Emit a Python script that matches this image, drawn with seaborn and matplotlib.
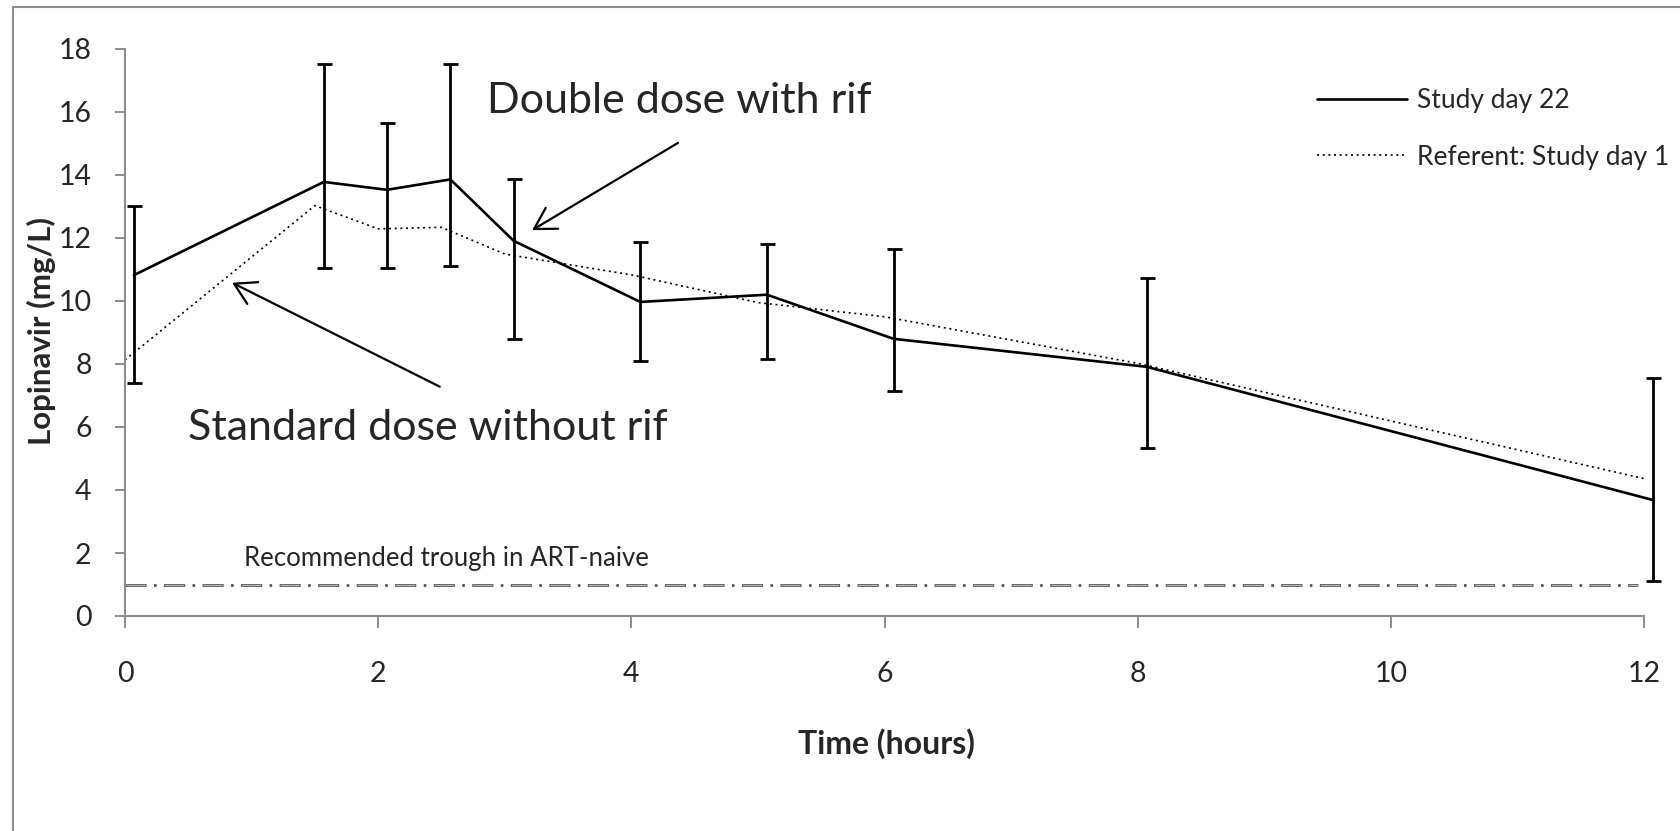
import matplotlib
matplotlib.use("Agg")
import matplotlib.pyplot as plt
import seaborn as sns
import numpy as np
import pandas as pd
from matplotlib.lines import Line2D

# ---------------- data ----------------
time_day1 = [0, 1.5, 2, 2.5, 3, 4, 5, 6, 8, 12]
conc_day1 = [8.13, 13.03, 12.29, 12.34, 11.49, 10.83, 9.95, 9.50, 8.02, 4.36]

time_day22 = [0.07, 1.57, 2.07, 2.57, 3.07, 4.07, 5.07, 6.07, 8.07, 12.07]
conc_day22 = [10.82, 13.78, 13.53, 13.86, 11.91, 9.97, 10.20, 8.80, 7.91, 3.68]
upper_day22 = [13.02, 17.51, 15.66, 17.51, 13.86, 11.86, 11.80, 11.64, 10.72, 7.55]
lower_day22 = [7.41, 11.06, 11.06, 11.12, 8.80, 8.09, 8.15, 7.15, 5.32, 1.12]

trough_level = 1.0
x_ticks = [0, 2, 4, 6, 8, 10, 12]
y_ticks = [0, 2, 4, 6, 8, 10, 12, 14, 16, 18]

label_day22 = "Study day 22"
label_day1 = "Referent: Study day 1"
trough_text = "Recommended trough in ART-naive"
annot_double = "Double dose with rif"
annot_standard = "Standard dose without rif"
xlabel = "Time (hours)"
ylabel = "Lopinavir (mg/L)"

# ---------------- style ----------------
sns.set_style("white")
plt.rcParams["font.family"] = ["Lato", "DejaVu Sans"]

W, H = 1681, 831
fig = plt.figure(figsize=(W / 100, H / 100), dpi=100)
ax = fig.add_axes([125 / W, 1 - 616 / H, (1644.3 - 125) / W, (616 - 49) / H])

df1 = pd.DataFrame({"t": time_day1, "c": conc_day1})
df22 = pd.DataFrame({"t": time_day22, "c": conc_day22})

sns.lineplot(data=df1, x="t", y="c", ax=ax, color="black", lw=1.2,
             linestyle=(0, (1.2, 2.2)), label=label_day1, clip_on=False)
sns.lineplot(data=df22, x="t", y="c", ax=ax, color="black", lw=1.9,
             label=label_day22, clip_on=False)

c22 = np.array(conc_day22)
yerr = [c22 - np.array(lower_day22), np.array(upper_day22) - c22]
eb = ax.errorbar(time_day22, conc_day22, yerr=yerr, fmt="none", ecolor="black",
                 elinewidth=2.0, capsize=5.4, capthick=2.0, clip_on=False)
for art in eb.lines[1] + eb.lines[2]:
    art.set_clip_on(False)

# trough line: grey dash-dot with hollow-looking dashes
lw_main = 1.9
ax.plot([0, 11.95], [trough_level, trough_level], color="#4d4d4d", lw=lw_main,
        linestyle=(0, (8, 2.8, 1, 2.8)))
lw_in = 0.55
period = lw_main * (8 + 2.8 + 1 + 2.8)
dash_in = lw_main * 8 - 1.6
ax.plot([0, 11.95], [trough_level, trough_level], color="#d9d9d9", lw=lw_in,
        linestyle=(-0.8 / lw_in, (dash_in / lw_in, (period - dash_in) / lw_in)))
ax.text(0.94, 1.587, trough_text, fontsize=18.5, va="baseline", ha="left")

# annotations
ax.annotate("", xy=(3.216, 12.25), xytext=(4.368, 15.02),
            arrowprops=dict(arrowstyle="->,head_length=0.6,head_width=0.35",
                            lw=1.6, color="black", mutation_scale=25,
                            shrinkA=0, shrinkB=0))
ax.annotate("", xy=(0.846, 10.58), xytext=(2.486, 7.28),
            arrowprops=dict(arrowstyle="->,head_length=0.6,head_width=0.35",
                            lw=1.6, color="black", mutation_scale=25,
                            shrinkA=0, shrinkB=0))
ax.text(2.857, 15.96, annot_double, fontsize=31, va="baseline", ha="left")
ax.text(0.498, 5.587, annot_standard, fontsize=31, va="baseline", ha="left")

# axes
ax.set_xlim(0, 12)
ax.set_ylim(0, 18)
ax.set_xticks(x_ticks)
ax.set_yticks(y_ticks)
ax.set_xticklabels([str(v) for v in x_ticks])
ax.set_yticklabels([str(v) for v in y_ticks])
for s in ["top", "right"]:
    ax.spines[s].set_visible(False)
for s in ["left", "bottom"]:
    ax.spines[s].set_color("#8c8c8c")
    ax.spines[s].set_linewidth(1.5)
ax.tick_params(axis="x", direction="out", length=8.6, width=1.4, color="#8c8c8c",
               labelsize=20.5, pad=24, bottom=True)
ax.tick_params(axis="y", direction="out", length=7, width=1.4, color="#8c8c8c",
               labelsize=20.5, pad=17, left=True)
ax.set_xlabel(xlabel, fontsize=23, fontweight="bold")
ax.set_ylabel(ylabel, fontsize=22.5, fontweight="bold")
ax.xaxis.set_label_coords((886 - 125) / (1644.3 - 125), -(728 - 616) / (616 - 49))
ax.yaxis.set_label_coords(-(125 - 56) / (1644.3 - 125), (616 - 331.5) / (616 - 49))

# legend
handles, labels = ax.get_legend_handles_labels()
order = [labels.index(label_day22), labels.index(label_day1)]
leg = ax.legend([handles[i] for i in order], [labels[i] for i in order],
                loc="upper left", bbox_to_anchor=(1317 / W, 1 - 88 / H),
                bbox_transform=fig.transFigure, frameon=False, fontsize=19,
                handlelength=3.4, handletextpad=0.4, labelspacing=1.2,
                borderpad=0, borderaxespad=0)

# outer frame (left and top edges)
fig.add_artist(Line2D([13 / W, 13 / W], [0, 1 - 7 / H], color="#8c8c8c", lw=1.5,
                      transform=fig.transFigure))
fig.add_artist(Line2D([13 / W, 1], [1 - 7 / H, 1 - 7 / H], color="#8c8c8c", lw=1.5,
                      transform=fig.transFigure))

fig.savefig("out.png", dpi=100)
